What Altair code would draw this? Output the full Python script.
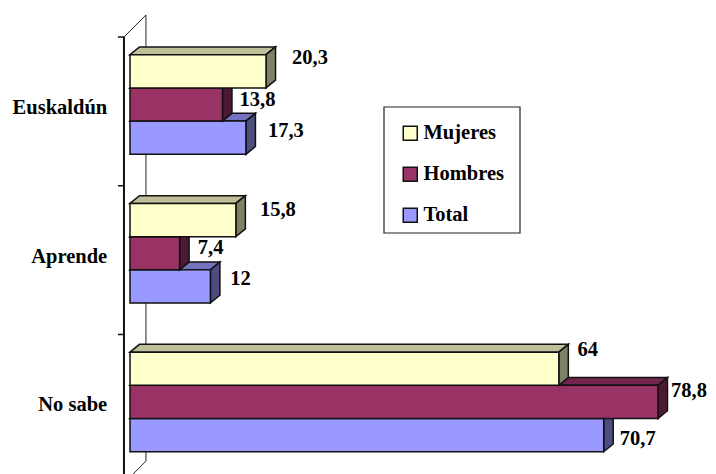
import altair as alt
import pandas as pd

categories = ["Euskaldún", "Aprende", "No sabe"]
series = ["Mujeres", "Hombres", "Total"]
mujeres = [20.3, 15.8, 64]
hombres = [13.8, 7.4, 78.8]
total = [17.3, 12, 70.7]
labels = {"Mujeres": ["20,3", "15,8", "64"], "Hombres": ["13,8", "7,4", "78,8"], "Total": ["17,3", "12", "70,7"]}
values = {"Mujeres": mujeres, "Hombres": hombres, "Total": total}

front = {"Mujeres": "#FFFFCC", "Hombres": "#993366", "Total": "#9999FF"}
top = {"Mujeres": "#BFBF99", "Hombres": "#73264D", "Total": "#7373BF"}
side = {"Mujeres": "#808066", "Hombres": "#4D1A33", "Total": "#4D4D80"}

# label nudges in px from the bar end / bar centre
nudge_x = {"Mujeres": [44, 42, 29], "Hombres": [35, 31, 31], "Total": [40, 30, 34]}
nudge_y = {"Mujeres": [-13, -10, -19], "Hombres": [-5, -5, -11], "Total": [-7, -7, 4]}

PX_X, PX_Y = 6.7, 33.2
PITCH = 4.48
DX, DY = 1.42, 0.235
AX0, WALL_DX, WALL_DY, AX_TOP = -0.9, 3.28, 0.663, -0.533

xs = alt.Scale(domain=[-122 / PX_X, 578 / PX_X], range=[0, 700], nice=False, zero=False)
ys = alt.Scale(domain=[-46.7 / PX_Y, 419.3 / PX_Y], range=[0, 466], nice=False, zero=False)
color = alt.Scale(domain=series, range=[front[s] for s in series])


def X(f):
    return alt.X(f, type="quantitative", scale=xs, axis=None)


def Y(f):
    return alt.Y(f, type="quantitative", scale=ys, axis=None)


# structure: axis, back wall
ticks = [AX_TOP + PITCH * g for g in range(4)]
axis_df = pd.DataFrame({"x": [AX0], "y": [ticks[0]], "y2": [ticks[3]]})
wall_df = pd.DataFrame({"x": [AX0 + WALL_DX], "y": [ticks[0] - WALL_DY], "y2": [ticks[3] - WALL_DY]})
tick_df = pd.DataFrame({"x": [AX0 - 0.9] * 4, "x2": [AX0] * 4, "y": ticks})
diag_rows = []
for k, t in enumerate([ticks[0], ticks[3]]):
    diag_rows += [{"k": k, "x": AX0, "y": t}, {"k": k, "x": AX0 + WALL_DX, "y": t - WALL_DY}]
diag_df = pd.DataFrame(diag_rows)

layers = [
    alt.Chart(wall_df).mark_rule(color="#222222", strokeWidth=1).encode(x=X("x"), y=Y("y"), y2="y2"),
    alt.Chart(diag_df).mark_line(color="#222222", strokeWidth=1).encode(x=X("x"), y=Y("y"), detail="k:N"),
    alt.Chart(axis_df).mark_rule(color="#111111", strokeWidth=2).encode(x=X("x"), y=Y("y"), y2="y2"),
    alt.Chart(tick_df).mark_rule(color="#111111", strokeWidth=1.5).encode(x=X("x"), x2="x2", y=Y("y")),
    # legend frame
    alt.Chart(pd.DataFrame({"a": [0]})).mark_rect(fill="white", stroke="#222222", strokeWidth=1.2).encode(
        x=alt.value(376), x2=alt.value(512), y=alt.value(99), y2=alt.value(225)
    ),
]

# bars: drawn bottom to top within each group
for i, s in reversed(list(enumerate(series))):
    fronts, faces = [], []
    for g, v in enumerate(values[s]):
        y0 = g * PITCH + i
        y1 = y0 + 1
        fronts.append({"series": s, "v": v, "y0": y0, "y1": y1})
        pts_top = [(0, y0, y0), (DX, y0 - DY, y0), (v, y0 - DY, y0), (v + DX, y0 - DY, y0 - DY)]
        for x, a, b in pts_top:
            faces.append({"id": f"t{g}", "x": x, "y": a, "y2": b, "fill": top[s]})
        for x, a, b in [(v, y0, y1), (v + DX, y0 - DY, y1 - DY)]:
            faces.append({"id": f"s{g}", "x": x, "y": a, "y2": b, "fill": side[s]})
    layers.append(
        alt.Chart(pd.DataFrame(faces)).mark_area(stroke="#111111", strokeWidth=1.5, interpolate="linear", orient="vertical").encode(
            x=X("x"), y=Y("y"), y2="y2", detail="id:N", fill=alt.Fill("fill:N", scale=None)
        )
    )
    layers.append(
        alt.Chart(pd.DataFrame(fronts)).mark_rect(stroke="#111111", strokeWidth=1.5).encode(
            x=alt.X("zero:Q", scale=xs, axis=None), x2="v:Q", y=Y("y0"), y2="y1",
            color=alt.Color("series:N", scale=color, sort=series, legend=alt.Legend(
                title=None, orient="none", legendX=392, legendY=115, padding=0,
                symbolType="square", symbolSize=196, symbolStrokeColor="#111111", symbolStrokeWidth=1.5,
                labelFont="Liberation Serif", labelFontWeight="bold", labelFontSize=20.5, labelColor="black",
                labelOffset=3, rowPadding=20, symbolOpacity=1,
            )),
        ).transform_calculate(zero="0")
    )

# value labels
lab_rows = []
for i, s in enumerate(series):
    for g, v in enumerate(values[s]):
        lab_rows.append({"x": v + nudge_x[s][g] / PX_X, "y": g * PITCH + i + 0.5 + nudge_y[s][g] / PX_Y, "t": labels[s][g]})
layers.append(
    alt.Chart(pd.DataFrame(lab_rows)).mark_text(
        font="Liberation Serif", fontWeight="bold", fontSize=20.5, color="black", align="center", baseline="middle"
    ).encode(x=X("x"), y=Y("y"), text="t:N")
)

# category labels
cat_df = pd.DataFrame({"c": categories, "x": [-3.4] * 3, "y": [g * PITCH + 1.5 + 0.1 for g in range(3)]})
layers.append(
    alt.Chart(cat_df).mark_text(
        font="Liberation Serif", fontWeight="bold", fontSize=20.5, color="black", align="right", baseline="middle"
    ).encode(x=X("x"), y=Y("y"), text="c:N")
)

chart = alt.layer(*layers).properties(
    width=700, height=466, padding=0, background="white", autosize=alt.AutoSizeParams(type="none")
).configure_view(stroke=None)
chart.save("out.html", embed_options={"renderer": "svg", "actions": False})
